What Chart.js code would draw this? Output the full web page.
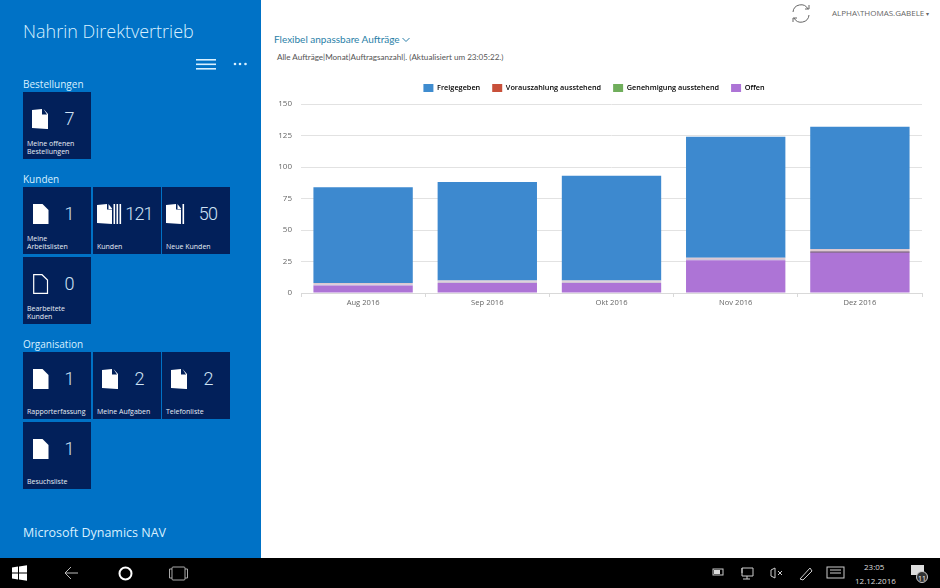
<!DOCTYPE html>
<html>
<head>
<meta charset="utf-8">
<script src="https://cdn.jsdelivr.net/npm/chart.js@4"></script>
<style>
  html, body { margin: 0; padding: 0; width: 940px; height: 588px; overflow: hidden; background: #fff; font-family: 'Open Sans', sans-serif; }
  .abs { position: absolute; white-space: nowrap; }
  #sidebar { position: absolute; left: 0; top: 0; width: 261px; height: 558px; background: #0072c6; }
  #taskbar { position: absolute; left: 0; top: 558px; width: 940px; height: 30px; background: #000; }
  .tile { position: absolute; width: 68px; height: 67px; background: #02205a; color: #fff; }
  .tile .num { position: absolute; top: 15px; left: 46px; transform: translateX(-50%); font-family: Roboto, sans-serif; font-size: 18px; line-height: 24px; font-weight: 300; letter-spacing: -0.8px; color: #cfe3f5; }
  .tile .lbl { position: absolute; left: 4px; bottom: 3px; font-size: 7px; line-height: 8.2px; color: #e8eef6; white-space: pre; }
  .tile svg { position: absolute; top: 17px; }
  .group { color: #d8f0ff; font-size: 10px; position: absolute; left: 23px; }
  #wrap { position: absolute; left: 262px; top: 72px; width: 678px; height: 248px; }
</style>
</head>
<body>
<div id="sidebar"></div>
<div id="taskbar"></div>
<div id="wrap"><canvas id="orderChart" width="678" height="248"></canvas></div>
<script>
// Werte
const months = ['Aug 2016', 'Sep 2016', 'Okt 2016', 'Nov 2016', 'Dez 2016'];
const offen = [6, 8, 8, 26, 32];
const genehmigung = [1, 1, 1, 1, 1];
const vorauszahlung = [1, 1, 1, 1, 2];
const freigegeben = [76, 78, 83, 96, 97];
const yTicks = [0, 25, 50, 75, 100, 125, 150];

const legendColors = {
  'Freigegeben': '#3f8ccf',
  'Vorauszahlung ausstehend': '#c8503a',
  'Genehmigung ausstehend': '#70ae5c',
  'Offen': '#ad74d6',
};

// Kacheln in der Seitenleiste
const tiles = [
  ['Meine offenen\nBestellungen', '7', 23, 92, 'stack'],
  ['Meine\nArbeitslisten', '1', 23, 187, 'doc'],
  ['Kunden', '121', 93, 187, 'lines'],
  ['Neue Kunden', '50', 162, 187, 'lines1'],
  ['Bearbeitete\nKunden', '0', 23, 257, 'outline'],
  ['Rapporterfassung', '1', 23, 352, 'doc'],
  ['Meine Aufgaben', '2', 93, 352, 'stack'],
  ['Telefonliste', '2', 162, 352, 'stack'],
  ['Besuchsliste', '1', 23, 422, 'doc'],
];
const groups = [['Bestellungen', 77], ['Kunden', 172], ['Organisation', 337]];

function icon(kind) {
  const sheet = 'M0 1L10 0V5.500H15V20L0 19Z';
  if (kind === 'doc') return `<svg style="left:10px" width="16" height="21"><path d="M0 0H9.500L15.500 6V20H0Z" fill="#fff"/></svg>`;
  if (kind === 'outline') return `<svg style="left:10px" width="16" height="21"><path d="M.7.7H9L14.500 6V19.300H.7Z" fill="none" stroke="#fff" stroke-width="1.200"/></svg>`;
  if (kind === 'stack') return `<svg style="left:9px" width="17" height="21"><path d="${sheet}" fill="#fff"/><path d="M11.500 0L16 5V20H15V5.500Z" fill="#fff"/></svg>`;
  const bars = kind === 'lines' ? [16.500, 19.500, 22.500] : [16.500];
  const rects = bars.map(x => `<rect x="${x}" y="0" width="1.600" height="20" fill="#fff"/>`).join('');
  return `<svg style="left:4px" width="26" height="21"><path d="${sheet}" fill="#fff"/><path d="M11.500 0L15 4.500V5H11.500Z" fill="#fff"/>${rects}</svg>`;
}

const sidebar = document.getElementById('sidebar');
sidebar.innerHTML = `<div class="abs" style="left:23px;top:19px;font-size:18px;font-weight:300;color:#d8f0ff">Nahrin Direktvertrieb</div>
  <svg class="abs" style="left:196px;top:58px" width="60" height="14">
    <g fill="#d8f0ff"><rect width="20" height="1.600" y="1"/><rect width="20" height="1.600" y="5.500"/><rect width="20" height="1.600" y="10"/>
    <circle cx="39" cy="6" r="1.300"/><circle cx="44" cy="6" r="1.300"/><circle cx="49.500" cy="6" r="1.300"/></g></svg>
  <div class="abs" style="left:23px;top:524px;font-size:12.500px;color:#d8f0ff">Microsoft Dynamics NAV</div>`;
groups.forEach(([text, top]) => {
  sidebar.innerHTML += `<div class="group" style="top:${top}px">${text}</div>`;
});
tiles.forEach(([label, num, x, y, kind]) => {
  sidebar.innerHTML += `<div class="tile" style="left:${x}px;top:${y}px">${icon(kind)}<div class="num">${num}</div><div class="lbl">${label}</div></div>`;
});

document.body.insertAdjacentHTML('beforeend', `
  <div class="abs" style="left:274px;top:33px;font-family:Lato;font-size:10px;color:#2a7fa8">Flexibel anpassbare Aufträge
    <svg width="8" height="6"><path d="M.5 1L4 4.500L7.500 1" fill="none" stroke="#2a7fa8"/></svg></div>
  <div class="abs" style="left:277px;top:52px;font-family:Lato;font-size:8.100px;color:#555">Alle Aufträge|Monat|Auftragsanzahl|. (Aktualisiert um 23:05:22.)</div>
  <svg class="abs" style="left:790px;top:3px" width="22" height="21" fill="none" stroke="#666" stroke-width="1">
    <path d="M3 9A8 8 0 0 1 18 6M19 12A8 8 0 0 1 4 15"/><path d="M15 6H19V2M7 15H3V19"/></svg>
  <div class="abs" style="left:832px;top:7px;font-size:8px;color:#666">ALPHA\\THOMAS.GABELE <span style="font-size:6px">▾</span></div>
  <svg class="abs" style="left:0;top:558px" width="200" height="30">
    <g fill="#fff"><path d="M12 9.500L18 8.600V14.500H12ZM19 8.500L27 7.300V14.500H19ZM12 15.500H18V21.400L12 20.500ZM19 15.500H27V22.700L19 21.500Z"/></g>
    <path d="M78 15H65M71 9L65 15L71 21" fill="none" stroke="#bbb" stroke-width="1"/>
    <circle cx="125.500" cy="15.500" r="6" fill="none" stroke="#fff" stroke-width="2"/>
    <g fill="none" stroke="#aaa"><rect x="172" y="9" width="13" height="13" rx="1"/><path d="M172 11H169.500V20H172M185 11H187.500V20H185"/></g>
  </svg>
  <svg class="abs" style="left:700px;top:558px" width="240" height="30">
    <rect x="14" y="12" width="6" height="4" fill="#ddd"/>
    <g fill="none" stroke="#ccc"><rect x="13" y="11" width="10" height="6"/><path d="M42 10H53V18H42ZM47 18V21M43 21H50M42 10V15"/>
    <path d="M71 12V18L75 20V10Z"/><path d="M78 13L82 17M82 13L78 17"/>
    <path d="M100 21L110 10L112 13L103 22L100 21"/><rect x="127" y="9" width="17" height="11"/><path d="M130 15H141M130 12H141"/></g>
    <path d="M211 7H224V17H220V20L217 17H211Z" fill="#ddd"/>
    <circle cx="222" cy="19" r="5.500" fill="#333" stroke="#ccc"/>
  </svg>
  <div class="abs" style="left:864px;top:561px;font-size:8px;color:#ddd">23:05</div>
  <div class="abs" style="left:855px;top:575px;font-size:8px;color:#ddd">12.12.2016</div>
  <div class="abs" style="left:918px;top:574px;font-size:7px;color:#fff">11</div>
`);

// Legende etwas tiefer als die Standardhöhe, damit der Plot bei y=104 beginnt
const legendHeight = {
  id: 'legendHeight',
  beforeInit(chart) {
    const fit = chart.legend.fit;
    chart.legend.fit = function () {
      fit.call(this);
      this.height = 32;
    };
  },
  afterLayout(chart) {
    chart.legend.left += 2;
    chart.legend.right += 2;
  },
};

const ctx = document.getElementById('orderChart').getContext('2d');
new Chart(ctx, {
  type: 'bar',
  data: {
    labels: months,
    datasets: [
      { label: 'Offen', data: offen, backgroundColor: '#ad74d6' },
      { label: 'Genehmigung ausstehend', data: genehmigung, backgroundColor: ['#cfc5d8', '#cfc5d8', '#cfc5d8', '#cfc5d8', '#5e3d63'] },
      { label: 'Vorauszahlung ausstehend', data: vorauszahlung, backgroundColor: '#ddc8d0' },
      { label: 'Freigegeben', data: freigegeben, backgroundColor: '#3d89cf' },
    ],
  },
  options: {
    responsive: false,
    animation: false,
    maintainAspectRatio: false,
    layout: { padding: { right: 18 } },
    datasets: { bar: { categoryPercentage: 1, barPercentage: 0.8 } },
    plugins: {
      tooltip: { enabled: false },
      legend: {
        position: 'top',
        reverse: true,
        labels: {
          boxWidth: 10,
          boxHeight: 8,
          padding: 12,
          color: '#555',
          font: { family: 'Open Sans', size: 7.3, weight: '600' },
          generateLabels(chart) {
            return chart.data.datasets.map((d, i) => ({
              text: d.label,
              fillStyle: legendColors[d.label],
              strokeStyle: legendColors[d.label],
              lineWidth: 0,
              datasetIndex: i,
            }));
          },
        },
      },
    },
    scales: {
      x: {
        stacked: true,
        grid: { drawOnChartArea: false, drawTicks: true, tickLength: 4, color: '#d9d9d9' },
        border: { color: '#d9d9d9' },
        ticks: { color: '#666', padding: 1, font: { family: 'Open Sans', size: 7.6 }, maxRotation: 0 },
        afterFit(scale) { scale.height = 27; },
      },
      y: {
        stacked: true,
        min: 0,
        max: 150,
        afterBuildTicks(scale) { scale.ticks = yTicks.map(value => ({ value })); },
        grid: { drawTicks: false, color: '#e2e2e2' },
        border: { display: false },
        ticks: { color: '#666', padding: 9, font: { family: 'Open Sans', size: 8 } },
        afterFit(scale) { scale.width = 39; },
      },
    },
  },
  plugins: [legendHeight],
});
</script>
</body>
</html>
